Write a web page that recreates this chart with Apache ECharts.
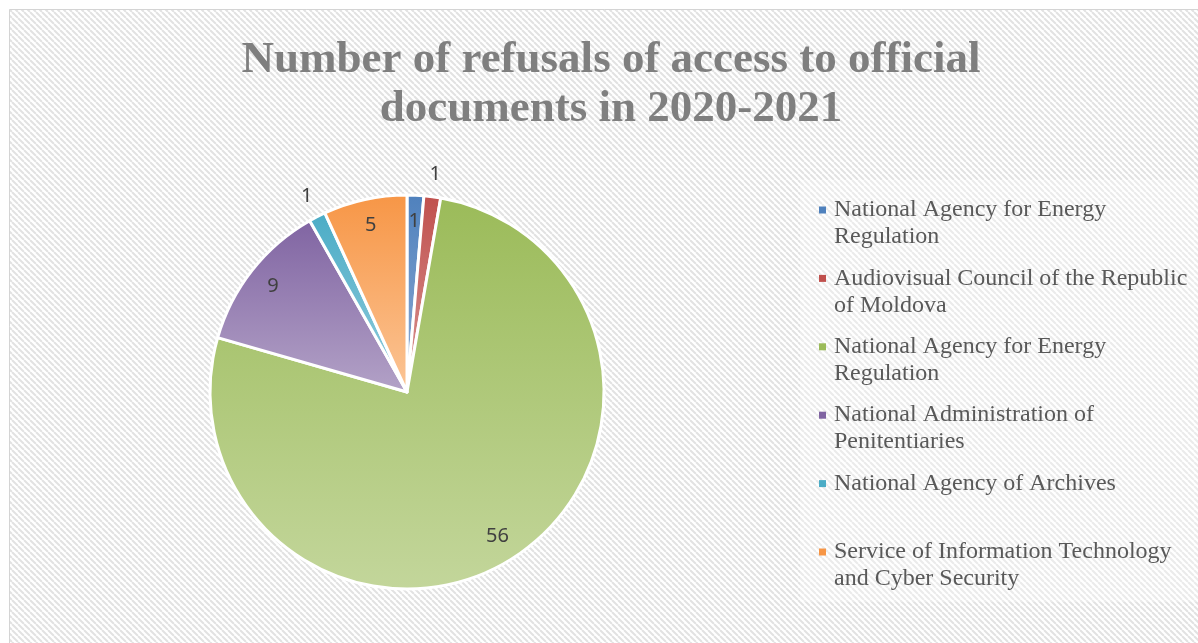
<!DOCTYPE html>
<html>
<head>
<meta charset="utf-8">
<script src="https://cdn.jsdelivr.net/npm/echarts@6/dist/echarts.min.js"></script>
<style>
  html, body { margin: 0; padding: 0; background: #ffffff; }
  #chart { width: 1198px; height: 643px; }
</style>
</head>
<body>
<div id="chart"></div>
<script>
// ---- data ----
const titleText = 'Number of refusals of access to official\ndocuments in 2020-2021';
const categories = [
  'National Agency for Energy Regulation',
  'Audiovisual Council of the Republic of Moldova',
  'National Agency for Energy Regulation',
  'National Administration of Penitentiaries',
  'National Agency of Archives',
  'Service of Information Technology and Cyber Security'
];
const values = [1, 1, 56, 9, 1, 5];

// ---- style ----
const darkColors  = ['#4f81bd', '#c0504d', '#9bbb59', '#8064a2', '#4bacc6', '#f79646'];
const lightColors = ['#8eabd3', '#d99694', '#c3d69b', '#b3a2c7', '#93cddd', '#fbc596'];
const outsideIdx = [1, 4];
const keys = categories.map((c, i) => 'k' + i);

function wrap(text, maxChars) {
  const words = text.split(' ');
  const lines = [];
  let cur = '';
  words.forEach(w => {
    const test = cur ? cur + ' ' + w : w;
    if (test.length > maxChars && cur) { lines.push(cur); cur = w; }
    else cur = test;
  });
  if (cur) lines.push(cur);
  return lines;
}

// hatch pattern tile
const tile = document.createElement('canvas');
tile.width = 6; tile.height = 6;
(function () {
  const c = tile.getContext('2d');
  c.fillStyle = '#ffffff';
  c.fillRect(0, 0, 6, 6);
  c.strokeStyle = '#e2e2e2';
  c.lineWidth = 2;
  [-6, 0, 6].forEach(x0 => {
    c.beginPath(); c.moveTo(x0, 0); c.lineTo(x0 + 6, 6); c.stroke();
  });
})();

const rich = {
  t: { fontFamily: 'Liberation Serif', fontSize: 24, color: '#595959', lineHeight: 27 },
  g: { width: 8, lineHeight: 27 },
  g2: { width: 15, lineHeight: 27 }
};
darkColors.forEach((c, i) => {
  rich['b' + i] = { width: 7, height: 7, backgroundColor: c, lineHeight: 27 };
});

const center = [407, 392];
const R = 197;

const labelStyle = {
  position: 'inside',
  fontFamily: 'Noto Sans',
  fontSize: 20,
  color: '#404040',
  formatter: '{c}'
};

const chart = echarts.init(document.getElementById('chart'));
chart.setOption({
  backgroundColor: '#ffffff',
  animation: false,
  title: {
    text: titleText,
    left: 611,
    top: 36,
    padding: 0,
    textAlign: 'center',
    textStyle: {
      fontFamily: 'Liberation Serif',
      fontWeight: 'bold',
      fontSize: 45,
      lineHeight: 49,
      color: '#7f7f7f'
    }
  },
  graphic: [{
    type: 'rect',
    z: -10,
    silent: true,
    shape: { x: 9.5, y: 9.5, width: 1200, height: 650 },
    style: { fill: { image: tile, repeat: 'repeat' }, stroke: '#d4d4d4', lineWidth: 1 }
  }],
  legend: {
    orient: 'vertical',
    left: 800,
    top: 180,
    padding: [18, 15, 11, 13],
    itemGap: 17.4,
    itemWidth: 0,
    itemHeight: 0,
    selectedMode: false,
    backgroundColor: 'rgba(255,255,255,0.3)',
    data: keys,
    formatter: function (name) {
      const i = keys.indexOf(name);
      const lines = wrap(categories[i], 35);
      if (lines.length < 2) lines.push(' ');
      return lines.map((l, j) =>
        (j === 0 ? '{b' + i + '| }{g| }' : '{g2| }') + '{t|' + l + '}'
      ).join('\n');
    },
    textStyle: { rich: rich, color: '#595959' }
  },
  series: [
    {
      type: 'pie',
      center: center,
      radius: [0, R],
      startAngle: 90,
      clockwise: true,
      silent: true,
      label: { show: false },
      labelLine: { show: false },
      emphasis: { disabled: true },
      itemStyle: { borderColor: '#ffffff', borderWidth: 3 },
      data: values.map((v, i) => ({
        name: keys[i],
        value: v,
        itemStyle: {
          color: new echarts.graphic.LinearGradient(0, 0, 0, 1, [
            { offset: 0, color: darkColors[i] },
            { offset: 1, color: lightColors[i] }
          ])
        }
      }))
    },
    {
      type: 'pie',
      center: center,
      radius: [R * 0.7, R],
      startAngle: 90,
      clockwise: true,
      silent: true,
      emphasis: { disabled: true },
      itemStyle: { color: 'transparent', borderWidth: 0 },
      labelLine: { show: false },
      label: labelStyle,
      data: values.map((v, i) => ({
        name: keys[i], value: v,
        label: { show: outsideIdx.indexOf(i) < 0 }
      }))
    },
    {
      type: 'pie',
      center: center,
      radius: [R, R * 1.2],
      startAngle: 90,
      clockwise: true,
      silent: true,
      emphasis: { disabled: true },
      itemStyle: { color: 'transparent', borderWidth: 0 },
      labelLine: { show: false },
      label: labelStyle,
      data: values.map((v, i) => ({
        name: keys[i], value: v,
        label: { show: outsideIdx.indexOf(i) >= 0 }
      }))
    }
  ]
});
</script>
</body>
</html>
